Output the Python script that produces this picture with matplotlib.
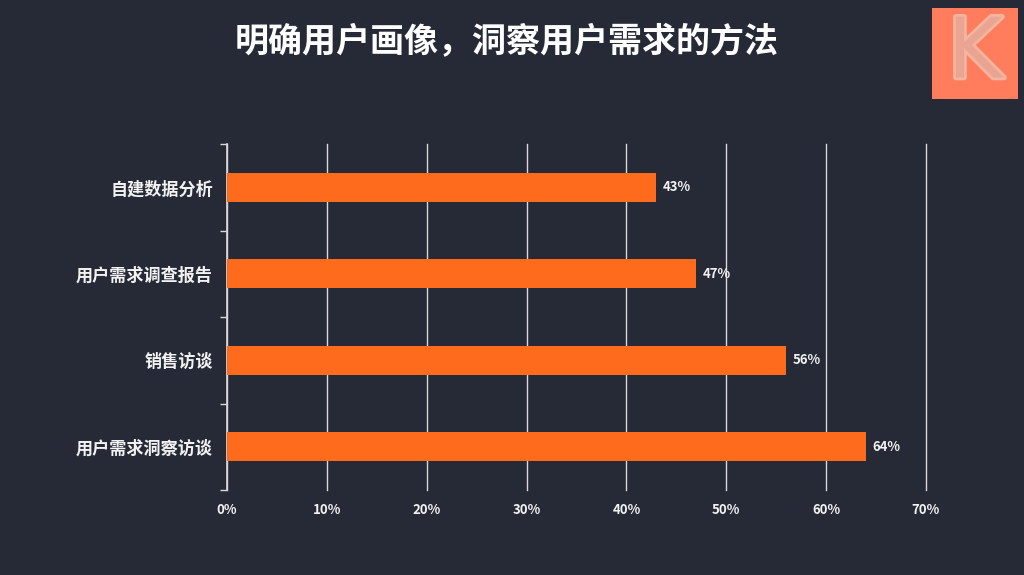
import matplotlib.pyplot as plt
import matplotlib.patheffects as pe
from matplotlib.patches import Rectangle
from matplotlib.ticker import FixedLocator, PercentFormatter

plt.rcParams['font.family'] = ['Noto Sans CJK SC', 'DejaVu Sans']

# 数据
categories = ['自建数据分析', '用户需求调查报告', '销售访谈', '用户需求洞察访谈']
values = [43, 47, 56, 64]
title = '明确用户画像，洞察用户需求的方法'

bg = '#252a36'
bar_color = '#ff6b1c'
fg = '#f2f2f2'

fig = plt.figure(figsize=(10.24, 5.75), dpi=100, facecolor=bg)
ax = fig.add_axes([227 / 1024, 1 - 490 / 575, 699 / 1024, 346 / 575])
ax.set_facecolor(bg)

y = list(range(len(categories)))
ax.barh(y, values, height=0.34, color=bar_color, zorder=3)
for yi, v in zip(y, values):
    ax.text(v + 0.6, yi, f'{v}%', va='center', ha='left', color=fg,
            fontsize=9.5, fontweight='bold', zorder=4)

ax.set_xlim(0, 70)
ax.set_ylim(len(categories) - 0.5, -0.5)
ax.set_xticks(range(0, 71, 10))
ax.xaxis.set_major_formatter(PercentFormatter(decimals=0))
ax.grid(axis='x', color='#d8d8d8', linewidth=1.0, zorder=0)
for gl in ax.get_xgridlines():
    gl.set_clip_on(False)

ax.set_yticks(y)
ax.set_yticklabels(categories)
ax.yaxis.set_minor_locator(FixedLocator([i - 0.5 for i in range(len(categories) + 1)]))
ax.tick_params(axis='y', which='major', length=0, pad=10, labelsize=12.3, labelcolor=fg)
ax.tick_params(axis='y', which='minor', length=5, color='#d8d8d8', width=1)
ax.tick_params(axis='x', length=0, pad=9, labelsize=9.5, labelcolor=fg)
for lab in ax.get_xticklabels() + ax.get_yticklabels():
    lab.set_fontweight('bold')

for s in ['top', 'right', 'bottom']:
    ax.spines[s].set_visible(False)
ax.spines['left'].set_color('#d8d8d8')
ax.spines['left'].set_linewidth(1.2)

fig.text(0.495, 1 - 42 / 575, title, ha='center', va='center', color='white',
         fontsize=24.5, fontweight='bold')

# 右上角 K 标志
fig.patches.append(Rectangle((932 / 1024, 1 - 99 / 575), 86 / 1024, 91 / 575,
                             transform=fig.transFigure, facecolor='#ff7d5c',
                             edgecolor='none'))
fig.text(975 / 1024, 1 - 54 / 575, 'K', ha='center', va='center', fontsize=60,
         color='#e9a592', family='DejaVu Sans',
         path_effects=[pe.withStroke(linewidth=4, foreground='#f5b4a0')])

fig.savefig('out.png', dpi=100, facecolor=bg)
